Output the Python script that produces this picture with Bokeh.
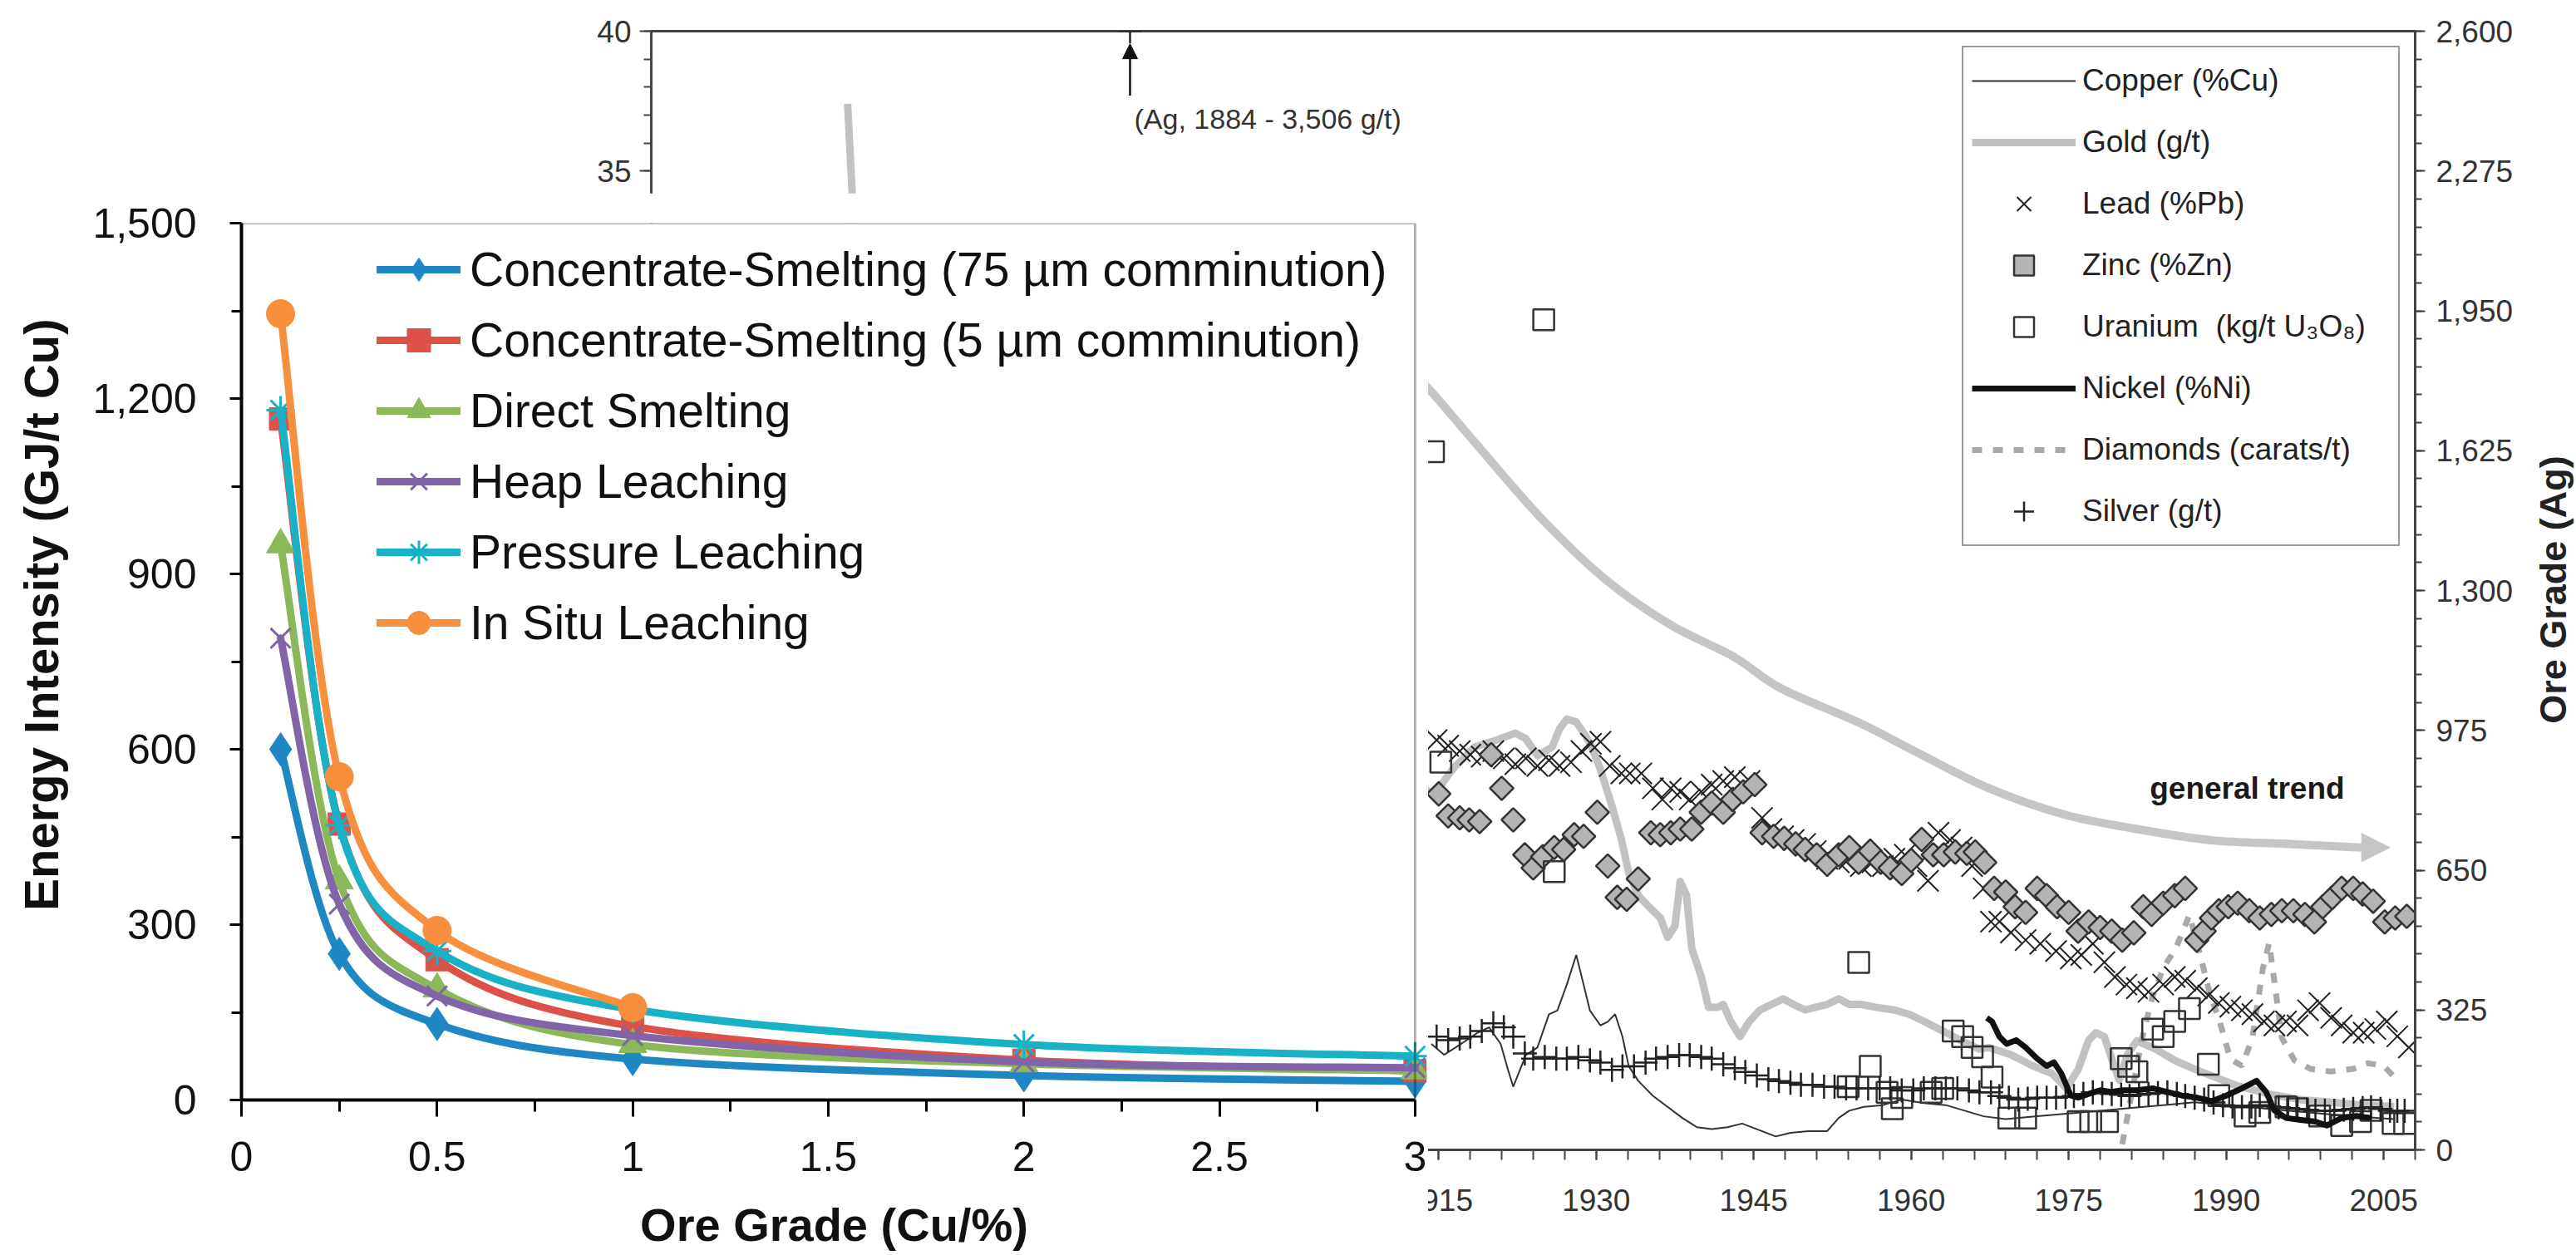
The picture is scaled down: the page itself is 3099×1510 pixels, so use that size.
import math
from bokeh.plotting import figure
from bokeh.models import (Range1d, LinearAxis, FixedTicker, SingleIntervalTicker,
                          NumeralTickFormatter, Legend, LegendItem, Arrow, NormalHead,
                          Label, BoxAnnotation, ColumnDataSource)
from bokeh.embed import file_html
from bokeh.resources import INLINE

FONT = "Liberation Sans"

# ---------------- foreground: energy intensity vs ore grade ----------------
grade = [0.1, 0.25, 0.5, 1, 2, 3]
grade_insitu = [0.1, 0.25, 0.5, 1]
conc_smelt_75 = [600, 250, 130, 70, 42, 32]
conc_smelt_5 = [1165, 472, 240, 126, 68, 50]
direct_smelt = [950, 375, 190, 95, 62, 50]
heap_leach = [790, 335, 178, 110, 65, 55]
pressure_leach = [1180, 470, 255, 155, 95, 75]
in_situ_leach = [1345, 553, 290, 158]
fg_x_ticks = [0, 0.5, 1, 1.5, 2, 2.5, 3]
fg_x_minor = [0.25, 0.75, 1.25, 1.75, 2.25, 2.75]
fg_y_ticks = [0, 300, 600, 900, 1200, 1500]
fg_y_minor = [150, 450, 750, 1050, 1350]

# ---------------- background: historical ore grades ----------------
gold_year = [1858.7, 1859.3, 1861.0, 1914.5, 1916.3, 1918.4, 1920.5, 1922.3, 1923.3, 1924.4, 1925.8,
             1926.5, 1927.2, 1928.1, 1929.0, 1929.7, 1930.4, 1931.5, 1932.4, 1933.1, 1934.0, 1935.0,
             1936.1, 1936.8, 1937.5, 1938.0, 1938.6, 1939.1, 1940.0, 1940.7, 1941.6, 1942.1, 1942.8,
             1943.7, 1944.6, 1945.6, 1946.7, 1947.8, 1948.8, 1949.9, 1950.9, 1952.0, 1953.1, 1954.1,
             1955.2, 1956.6, 1958.4, 1959.8, 1961.2, 1963.0, 1964.8, 1966.5, 1967.4, 1969.5, 1971.6,
             1973.4, 1974.8, 1975.9, 1976.9, 1977.6, 1978.4, 1979.1, 1979.8, 1980.6, 1981.5, 1983.3,
             1985.1, 1986.9, 1988.6, 1991.0, 1994.0, 1997.0, 2000.0, 2003.0, 2006.0]
gold_gpt = [37.4, 33.0, 28.0, 12.67, 13.6, 14.4, 14.65, 14.9, 14.7, 14.1, 14.4,
            15.05, 15.4, 15.3, 14.8, 14.3, 13.6, 12.3, 11.1, 9.9, 9.1, 8.7,
            8.3, 7.6, 8.0, 9.6, 9.1, 7.2, 6.2, 5.1, 5.1, 5.2, 4.6,
            4.05, 4.6, 5.0, 5.2, 5.4, 5.2, 5.0, 5.1, 5.2, 5.4, 5.2,
            5.2, 5.1, 5.0, 4.85, 4.6, 4.25, 3.9, 3.6, 3.66, 3.4, 3.0,
            2.73, 2.2, 2.87, 3.92, 4.19, 4.05, 3.26, 2.5, 3.4, 3.9, 3.6,
            3.2, 2.9, 2.65, 2.3, 2.0, 1.8, 1.7, 1.6, 1.55]

copper_year = [1914.3, 1915.5, 1916.6, 1917.7, 1918.7, 1919.8, 1920.9, 1921.6, 1922.1, 1922.6, 1923.3,
               1924.4, 1925.5, 1926.3, 1927.2, 1928.1, 1928.8, 1929.4, 1930.4, 1931.1, 1931.8, 1932.5,
               1933.1, 1934.0, 1935.4, 1936.8, 1938.2, 1939.6, 1941.0, 1942.5, 1943.9, 1945.3, 1947.1,
               1948.5, 1950.2, 1952.0, 1953.1, 1954.1, 1955.5, 1957.3, 1959.1, 1961.2, 1963.3, 1965.1,
               1966.9, 1969.0, 1972.0, 1975.0, 1978.0, 1981.0, 1984.0, 1987.0, 1990.0, 1993.0, 1996.0,
               1999.0, 2002.0, 2006.0]
copper_pct = [3.79, 3.4, 3.66, 3.93, 4.19, 4.38, 3.79, 2.86, 2.26, 2.73, 3.39,
              3.66, 4.85, 4.98, 5.91, 6.97, 5.91, 4.98, 4.45, 4.58, 4.85, 4.05,
              2.99, 2.47, 1.93, 1.54, 1.14, 0.81, 0.74, 0.81, 0.94, 0.74, 0.48,
              0.61, 0.67, 0.67, 1.14, 1.40, 1.54, 1.60, 1.80, 1.67, 1.60, 1.40,
              1.20, 1.1, 1.2, 1.3, 1.4, 1.5, 1.6, 1.7, 1.6, 1.5, 1.4,
              1.3, 1.2, 1.1]

lead_year = [1914.8, 1915.9, 1917.0, 1918.0, 1919.1, 1920.2, 1921.2, 1922.3, 1923.3, 1924.4, 1925.5,
             1926.5, 1927.6, 1928.6, 1929.5, 1930.4, 1931.3, 1932.4, 1933.2, 1934.3, 1935.4, 1936.3,
             1937.1, 1938.0, 1938.9, 1940.0, 1941.0, 1942.1, 1943.2, 1944.6, 1945.8, 1946.7, 1947.8,
             1948.8, 1949.9, 1950.9, 1952.0, 1953.1, 1954.1, 1955.2, 1956.3, 1957.3, 1958.4, 1959.4,
             1960.5, 1961.6, 1962.6, 1963.7, 1964.8, 1965.8, 1966.9, 1967.6, 1968.4, 1969.5, 1970.9,
             1972.3, 1973.8, 1975.2, 1976.2, 1977.3, 1978.4, 1979.4, 1980.5, 1981.5, 1982.6, 1984.0,
             1985.1, 1986.1, 1987.2, 1988.3, 1989.3, 1990.4, 1991.5, 1992.5, 1993.6, 1994.6, 1995.7,
             1996.8, 1997.8, 1998.9, 2000.0, 2001.0, 2002.1, 2003.1, 2004.2, 2005.3, 2006.3, 2007.4]
lead_pct = [14.65, 14.45, 14.26, 14.13, 14.06, 14.26, 14.0, 13.79, 14.0, 13.73, 13.93,
            13.73, 13.86, 14.26, 14.52, 14.59, 13.73, 13.46, 13.46, 13.46, 12.93, 12.53,
            12.93, 12.8, 12.53, 12.8, 13.06, 13.19, 13.33, 13.19, 11.87, 11.47, 11.21,
            11.08, 10.94, 10.68, 10.41, 10.28, 10.41, 10.15, 10.28, 10.15, 10.41, 10.55,
            10.15, 9.62, 11.34, 11.08, 10.81, 10.15, 9.35, 8.16, 8.16, 7.77, 7.5,
            7.37, 7.11, 6.84, 6.97, 7.37, 6.71, 6.18, 5.91, 5.78, 5.65, 5.91,
            6.18, 6.05, 5.78, 5.52, 5.25, 5.12, 4.99, 4.85, 4.59, 4.45, 4.59,
            4.45, 4.99, 5.25, 4.72, 4.45, 4.19, 4.19, 4.32, 4.59, 4.06, 3.66]

zinc_year = [1915.0, 1915.9, 1917.0, 1917.9, 1918.9, 1920.0, 1921.0, 1922.1, 1923.2, 1924.0, 1924.9,
             1926.0, 1926.9, 1927.9, 1928.8, 1930.1, 1931.1, 1932.0, 1932.9, 1934.0, 1935.2, 1936.1,
             1937.1, 1938.0, 1939.1, 1940.0, 1941.0, 1942.1, 1943.0, 1944.0, 1945.1, 1945.8, 1946.9,
             1947.9, 1949.0, 1949.9, 1951.0, 1952.0, 1953.1, 1954.1, 1955.0, 1956.1, 1957.1, 1958.0,
             1959.1, 1960.0, 1961.0, 1962.1, 1963.1, 1964.2, 1965.3, 1966.1, 1967.0, 1967.9, 1969.0,
             1969.9, 1970.9, 1972.0, 1972.9, 1973.9, 1975.0, 1975.9, 1976.9, 1978.0, 1979.1, 1980.1,
             1981.2, 1982.1, 1982.9, 1984.0, 1985.1, 1986.1, 1987.2, 1987.9, 1988.6, 1989.3, 1990.2,
             1991.1, 1992.2, 1993.2, 1994.3, 1995.3, 1996.4, 1997.5, 1998.4, 1999.2, 2000.1, 2001.0,
             2002.1, 2003.0, 2004.0, 2005.1, 2006.1, 2007.2]
zinc_pct = [12.73, 11.94, 11.87, 11.80, 11.74, 14.13, 12.93, 11.80, 10.55, 10.08, 10.48,
            10.81, 10.74, 11.27, 11.21, 12.07, 10.15, 9.03, 8.96, 9.69, 11.34, 11.27,
            11.34, 11.47, 11.47, 12.07, 12.40, 12.07, 12.53, 12.80, 13.06, 11.34, 11.21,
            11.14, 10.94, 10.74, 10.55, 10.21, 10.55, 10.81, 10.28, 10.68, 10.28, 10.08,
            9.88, 10.35, 11.10, 10.55, 10.55, 10.65, 10.60, 10.65, 10.28, 9.35, 9.22,
            8.69, 8.49, 9.35, 9.09, 8.69, 8.49, 7.82, 8.15, 7.95, 7.82, 7.50,
            7.76, 8.69, 8.42, 8.82, 9.09, 9.35, 7.50, 7.82, 8.29, 8.55, 8.69,
            8.82, 8.55, 8.29, 8.42, 8.55, 8.55, 8.42, 8.15, 8.69, 9.02, 9.35,
            9.35, 9.15, 8.89, 8.15, 8.29, 8.35]

uranium_year = [1914.5, 1915.2, 1925.0, 1926.0, 1954.0, 1955.0, 1956.1, 1957.7, 1958.2, 1959.1, 1961.9,
                1963.0, 1964.0, 1964.9, 1965.8, 1966.8, 1967.7, 1969.3, 1970.9, 1975.9, 1977.1, 1978.7,
                1980.0, 1980.7, 1981.5, 1983.0, 1984.0, 1985.1, 1986.5, 1988.3, 1989.3, 1991.8, 1993.2,
                1995.7, 1996.8, 1998.9, 2001.0, 2002.8, 2003.8, 2005.9, 2007.0]
uranium_kgpt = [24.96, 13.86, 29.68, 9.95, 2.26, 6.70, 2.99, 2.06, 1.47, 1.87, 2.06,
                2.2, 4.25, 4.05, 3.66, 3.33, 2.60, 1.14, 1.14, 1.01, 1.01, 1.01,
                3.26, 2.99, 2.79, 4.32, 4.05, 4.59, 5.05, 3.06, 1.94, 1.21, 1.34,
                1.54, 1.47, 1.21, 0.87, 1.01, 1.41, 0.94, 0.94]

nickel_year = [1967.2, 1967.7, 1968.4, 1969.1, 1970.0, 1970.9, 1972.0, 1972.9, 1973.6, 1974.3, 1975.2,
               1975.9, 1976.9, 1978.0, 1979.1, 1980.1, 1981.5, 1983.0, 1984.4, 1985.8, 1987.2, 1988.6,
               1990.0, 1991.5, 1992.9, 1993.8, 1994.6, 1995.7, 1997.1, 1998.5, 1999.6, 2001.0, 2002.4,
               2003.8]
nickel_pct = [4.72, 4.59, 4.05, 3.79, 3.92, 3.66, 3.26, 3.0, 3.13, 2.73, 1.94,
              1.87, 2.0, 2.13, 2.07, 2.13, 2.13, 2.2, 2.07, 1.94, 1.87, 1.74,
              1.94, 2.2, 2.47, 2.07, 1.41, 1.14, 1.07, 1.01, 0.87, 1.14, 1.21,
              1.14]

diamond_year = [1980.1, 1981.0, 1982.0, 1983.0, 1984.0, 1985.2, 1986.5, 1987.5, 1988.5, 1989.3, 1990.4,
                1991.5, 1992.5, 1993.5, 1994.1, 1994.6, 1995.3, 1996.5, 1998.0, 2000.0, 2002.1, 2003.5,
                2005.0, 2006.3]
diamond_cpt = [0.2, 2.0, 4.0, 5.5, 6.5, 7.2, 8.4, 7.0, 5.5, 4.7, 3.25,
               3.0, 4.0, 6.5, 7.4, 6.0, 4.0, 3.2, 2.9, 2.8, 2.9, 3.1,
               3.0, 2.5]

silver_year = [1914.8, 1915.9, 1917.0, 1918.0, 1919.1, 1920.2, 1921.2, 1922.1, 1923.2, 1924.0, 1925.1,
               1926.2, 1927.2, 1928.3, 1929.4, 1930.4, 1931.5, 1932.5, 1933.6, 1934.7, 1935.7, 1936.8,
               1937.9, 1938.9, 1940.0, 1941.0, 1942.1, 1943.2, 1944.2, 1945.3, 1946.4, 1947.4, 1948.5,
               1949.5, 1950.6, 1951.7, 1952.7, 1953.8, 1954.8, 1955.9, 1957.0, 1958.0, 1959.1, 1960.2,
               1961.2, 1962.3, 1963.3, 1964.4, 1965.5, 1966.5, 1967.6, 1968.4, 1969.3, 1970.2, 1971.1,
               1972.0, 1972.9, 1973.8, 1974.7, 1975.5, 1976.4, 1977.3, 1978.2, 1979.1, 1980.0, 1980.8,
               1981.7, 1982.6, 1983.5, 1984.4, 1985.3, 1986.1, 1987.0, 1987.9, 1988.8, 1989.7, 1990.6,
               1991.5, 1992.4, 1993.2, 1994.1, 1995.0, 1995.9, 1996.8, 1997.7, 1998.5, 1999.4, 2000.3,
               2001.2, 2002.1, 2003.0, 2003.8, 2004.7, 2005.6, 2006.3, 2007.0]
silver_gpt = [263, 255, 259, 263, 276, 294, 285, 263, 224, 212, 216,
              212, 212, 216, 208, 203, 186, 194, 194, 203, 212, 216,
              220, 220, 216, 212, 199, 190, 181, 173, 164, 160, 156,
              151, 151, 147, 147, 143, 143, 143, 143, 143, 138, 138,
              143, 143, 143, 143, 138, 134, 134, 125, 121, 117, 119,
              121, 121, 121, 123, 125, 130, 134, 132, 130, 128, 125,
              128, 130, 132, 134, 130, 125, 121, 117, 110, 104, 101,
              99, 101, 104, 101, 99, 97, 95, 93, 91, 91, 91,
              93, 95, 97, 99, 95, 91, 91, 91]

trend_year = [1912.0, 1914.4, 1918.8, 1924.9, 1931.0, 1937.0, 1943.1, 1947.6, 1955.0, 1960.3, 1967.4,
              1974.5, 1981.5, 1988.6, 1995.7, 2002.8]
trend_value = [28.0, 27.07, 25.14, 22.53, 20.36, 18.79, 17.63, 16.5, 15.28, 14.26, 12.93,
               12.0, 11.47, 11.07, 10.94, 10.81]
trend_tip_year = [2005.6]
trend_tip_value = [10.81]
trend_label_year = [1992.0]
trend_label_value = [12.94]

ag_note_year = [1885.6]
ag_note_value = [2600]
ag_arrow_from = [37.7]
ag_arrow_to = [39.55]
ag_text_year = [1886.0]
ag_text_value = [36.85]

year_ticks = [1840, 1855, 1870, 1885, 1900, 1915, 1930, 1945, 1960, 1975, 1990, 2005]
year_minor = list(range(1840, 2009, 3))


def bezier_source(xs, ys):
    n = len(xs)
    d = dict(x0=[], y0=[], x1=[], y1=[], cx0=[], cy0=[], cx1=[], cy1=[])
    for i in range(n - 1):
        xp, yp = (xs[i - 1], ys[i - 1]) if i > 0 else (xs[i], ys[i])
        xn, yn = (xs[i + 2], ys[i + 2]) if i + 2 < n else (xs[i + 1], ys[i + 1])
        d["x0"].append(xs[i]); d["y0"].append(ys[i])
        d["x1"].append(xs[i + 1]); d["y1"].append(ys[i + 1])
        d["cx0"].append(xs[i] + (xs[i + 1] - xp) / 6.0)
        d["cy0"].append(ys[i] + (ys[i + 1] - yp) / 6.0)
        d["cx1"].append(xs[i + 1] - (xn - xs[i]) / 6.0)
        d["cy1"].append(ys[i + 1] - (yn - ys[i]) / 6.0)
    return ColumnDataSource(d)


# =================== background figure ===================
GRAY_TXT = "#333333"
p_bg = figure(width=3099, height=1510, x_range=Range1d(1840, 2008), y_range=Range1d(0, 40),
              min_border_left=783, min_border_right=194, min_border_top=37, min_border_bottom=127,
              output_backend="svg", toolbar_location=None)
p_bg.styles = {"position": "absolute", "left": "0px", "top": "0px"}
p_bg.extra_y_ranges = {"ag": Range1d(0, 2600)}
p_bg.xgrid.visible = False
p_bg.ygrid.visible = False
p_bg.outline_line_color = "#444444"
p_bg.outline_line_width = 3
p_bg.background_fill_color = "white"

for ax in (p_bg.xaxis[0], p_bg.yaxis[0]):
    ax.axis_line_color = "#444444"
    ax.axis_line_width = 3
    ax.major_tick_line_color = "#444444"
    ax.minor_tick_line_color = "#444444"
    ax.major_tick_line_width = 2
    ax.minor_tick_line_width = 2
    ax.major_tick_in = 0
    ax.minor_tick_in = 0
    ax.major_label_text_font = FONT
    ax.major_label_text_font_size = "37px"
    ax.major_label_text_color = GRAY_TXT

p_bg.xaxis.ticker = FixedTicker(ticks=year_ticks, minor_ticks=year_minor)
p_bg.xaxis.major_tick_out = 12
p_bg.xaxis.minor_tick_out = 12
p_bg.xaxis.major_label_standoff = 35
p_bg.yaxis.ticker = SingleIntervalTicker(interval=5, num_minor_ticks=5)
p_bg.yaxis.major_tick_out = 14
p_bg.yaxis.minor_tick_out = 9
p_bg.yaxis.major_label_standoff = 10

ax_ag = LinearAxis(y_range_name="ag", ticker=SingleIntervalTicker(interval=325, num_minor_ticks=5),
                   formatter=NumeralTickFormatter(format="0,0"))
ax_ag.axis_line_color = "#444444"
ax_ag.axis_line_width = 3
ax_ag.major_tick_line_color = "#444444"
ax_ag.minor_tick_line_color = "#444444"
ax_ag.major_tick_line_width = 2
ax_ag.minor_tick_line_width = 2
ax_ag.major_tick_in = 0
ax_ag.minor_tick_in = 0
ax_ag.major_tick_out = 12
ax_ag.minor_tick_out = 8
ax_ag.major_label_standoff = 13
ax_ag.major_label_text_font = FONT
ax_ag.major_label_text_font_size = "37px"
ax_ag.major_label_text_color = GRAY_TXT
p_bg.add_layout(ax_ag, "right")

# trend
tr_src = bezier_source(trend_year, trend_value)
p_bg.bezier(x0="x0", y0="y0", x1="x1", y1="y1", cx0="cx0", cy0="cy0", cx1="cx1", cy1="cy1",
            source=tr_src, line_color="#c6c6c6", line_width=10, line_cap="round")
p_bg.add_layout(Arrow(end=NormalHead(size=34, fill_color="#c6c6c6", line_color="#c6c6c6"),
                      x_start=trend_year[-1], y_start=trend_value[-1],
                      x_end=trend_tip_year[0], y_end=trend_tip_value[0],
                      line_alpha=0.0, line_width=1))
p_bg.add_layout(Label(x=trend_label_year[0], y=trend_label_value[0], text="general trend",
                      text_align="center", text_baseline="middle", text_font=FONT,
                      text_font_size="37px", text_font_style="bold", text_color="#1a1a1a"))

r_gold = p_bg.line(gold_year, gold_gpt, line_color="#c2c2c2", line_width=9, line_join="round")
r_dia = p_bg.line(diamond_year, diamond_cpt, line_color="#a9a9a9", line_width=7, line_dash="12 13")
r_cu = p_bg.line(copper_year, copper_pct, line_color="#333333", line_width=2)
r_pb = p_bg.scatter(lead_year, lead_pct, marker="x", size=36, line_color="#222222", line_width=2)
r_zn = p_bg.scatter(zinc_year, zinc_pct, marker="square", angle=math.pi / 4, size=20,
                    fill_color="#b4b4b4", line_color="#333333", line_width=2.5)
r_u = p_bg.scatter(uranium_year, uranium_kgpt, marker="square", size=25, fill_color=None,
                   line_color="#333333", line_width=2.5)
r_ag = p_bg.scatter(silver_year, silver_gpt, y_range_name="ag", marker="cross", size=29,
                    line_color="#222222", line_width=2.5)
r_ni = p_bg.line(nickel_year, nickel_pct, line_color="#111111", line_width=7, line_join="round")

# silver 1884 annotation
p_bg.scatter(ag_note_year, ag_note_value, y_range_name="ag", marker="cross", size=29,
             line_color="#222222", line_width=2.5)
p_bg.add_layout(Arrow(end=NormalHead(size=18, fill_color="#111111", line_color="#111111"),
                      x_start=ag_note_year[0], y_start=ag_arrow_from[0],
                      x_end=ag_note_year[0], y_end=ag_arrow_to[0],
                      line_color="#111111", line_width=2.5))
p_bg.add_layout(Label(x=ag_text_year[0], y=ag_text_value[0], text="(Ag, 1884 - 3,506 g/t)",
                      text_align="left", text_baseline="middle", text_font=FONT,
                      text_font_size="34px", text_color=GRAY_TXT))

bg_legend = Legend(items=[
    LegendItem(label="Copper (%Cu)", renderers=[r_cu]),
    LegendItem(label="Gold (g/t)", renderers=[r_gold]),
    LegendItem(label="Lead (%Pb)", renderers=[r_pb]),
    LegendItem(label="Zinc (%Zn)", renderers=[r_zn]),
    LegendItem(label="Uranium  (kg/t U\u2083O\u2088)", renderers=[r_u]),
    LegendItem(label="Nickel (%Ni)", renderers=[r_ni]),
    LegendItem(label="Diamonds (carats/t)", renderers=[r_dia]),
    LegendItem(label="Silver (g/t)", renderers=[r_ag]),
], location="top_right", margin=18, padding=10, spacing=14, glyph_width=125, glyph_height=60,
    label_height=60, label_width=370, label_standoff=8, label_text_font=FONT,
    label_text_font_size="37px", label_text_color="#222222", border_line_color="#333333",
    border_line_width=2.5, background_fill_color="white", background_fill_alpha=1.0)
p_bg.add_layout(bg_legend)

# right-hand axis title of the background chart, reading bottom-to-top
p_lab = figure(width=56, height=400, x_range=Range1d(0, 1), y_range=Range1d(0, 1),
               x_axis_type=None, y_axis_type=None, min_border=0,
               output_backend="svg", toolbar_location=None)
p_lab.styles = {"position": "absolute", "left": "3043px", "top": "509px", "z-index": "5"}
p_lab.grid.visible = False
p_lab.outline_line_color = None
p_lab.background_fill_alpha = 0.0
p_lab.border_fill_alpha = 0.0
p_lab.add_layout(Label(x=0.5, y=0.5, text="Ore Grade (Ag)", angle=math.pi / 2,
                       text_align="center", text_baseline="middle", text_font=FONT,
                       text_font_size="45px", text_font_style="bold", text_color="#222222"))

# =================== foreground figure (overlaid, opaque white) ===================
p_fg = figure(width=1718, height=1278, x_range=Range1d(0, 3.03), y_range=Range1d(0, 1500),
              min_border_left=290, min_border_right=2, min_border_top=36, min_border_bottom=187,
              output_backend="svg", toolbar_location=None)
p_fg.styles = {"position": "absolute", "left": "0px", "top": "232px", "z-index": "10"}
p_fg.xgrid.visible = False
p_fg.ygrid.visible = False
p_fg.outline_line_color = None
p_fg.background_fill_color = "white"
p_fg.border_fill_color = "white"

xa = p_fg.xaxis[0]
ya = p_fg.yaxis[0]
for ax in (xa, ya):
    ax.axis_line_color = "black"
    ax.axis_line_width = 4
    ax.major_tick_line_color = "black"
    ax.minor_tick_line_color = "black"
    ax.major_tick_line_width = 3
    ax.minor_tick_line_width = 3
    ax.major_tick_in = 0
    ax.minor_tick_in = 0
    ax.major_label_text_font = FONT
    ax.major_label_text_font_size = "50px"
    ax.major_label_text_color = "#111111"
    ax.axis_label_text_font = FONT
    ax.axis_label_text_font_style = "bold"
    ax.axis_label_text_color = "#111111"

xa.ticker = FixedTicker(ticks=fg_x_ticks, minor_ticks=fg_x_minor)
xa.formatter = NumeralTickFormatter(format="0.[0]")
xa.bounds = (0, 3)
xa.major_tick_out = 20
xa.minor_tick_out = 14
xa.major_label_standoff = 30
xa.axis_label = "Ore Grade (Cu/%)"
xa.axis_label_text_font_size = "56px"
xa.axis_label_standoff = 30

ya.ticker = FixedTicker(ticks=fg_y_ticks, minor_ticks=fg_y_minor)
ya.formatter = NumeralTickFormatter(format="0,0")
ya.bounds = (0, 1500)
ya.major_tick_out = 14
ya.minor_tick_out = 12
ya.major_label_standoff = 40
# leading no-break spaces lift the centred title slightly above the frame centre, as in the original
ya.axis_label = "\u00a0" * 7 + "Energy Intensity (GJ/t Cu)"
ya.axis_label_text_font_size = "58px"
ya.axis_label_standoff = 26

p_fg.add_layout(BoxAnnotation(left=0, right=3, bottom=0, top=1500, fill_alpha=0.0,
                              line_color="black", line_width=3))

series = [
    ("Concentrate-Smelting (75 \u00b5m comminution)", grade, conc_smelt_75, "#1f87c2", "diamond", 40),
    ("Concentrate-Smelting (5 \u00b5m comminution)", grade, conc_smelt_5, "#dc5148", "square", 27),
    ("Direct Smelting", grade, direct_smelt, "#8db859", "triangle", 34),
    ("Heap Leaching", grade, heap_leach, "#8165a8", "x", 34),
    ("Pressure Leaching", grade, pressure_leach, "#18b1c6", "asterisk", 34),
    ("In Situ Leaching", grade_insitu, in_situ_leach, "#f78f3d", "circle", 34),
]
items = []
for label, xs, ys, col, mk, sz in series:
    src = bezier_source(xs, ys)
    rl = p_fg.bezier(x0="x0", y0="y0", x1="x1", y1="y1", cx0="cx0", cy0="cy0", cx1="cx1", cy1="cy1",
                     source=src, line_color=col, line_width=9, line_cap="round")
    if mk in ("x", "asterisk"):
        rm = p_fg.scatter(xs, ys, marker=mk, size=sz, line_color=col, line_width=3)
    else:
        rm = p_fg.scatter(xs, ys, marker=mk, size=sz, fill_color=col, line_color=col)
    items.append(LegendItem(label=label, renderers=[rl, rm]))

fg_legend = Legend(items=items, location=(163, 539), padding=0, spacing=15, glyph_width=101,
                   glyph_height=70, label_height=70, label_standoff=11, label_text_font=FONT,
                   label_text_font_size="57px", label_text_color="#111111",
                   border_line_color=None, background_fill_alpha=0.0)
p_fg.add_layout(fg_legend)

open("out.html", "w").write(file_html([p_bg, p_lab, p_fg], INLINE))
